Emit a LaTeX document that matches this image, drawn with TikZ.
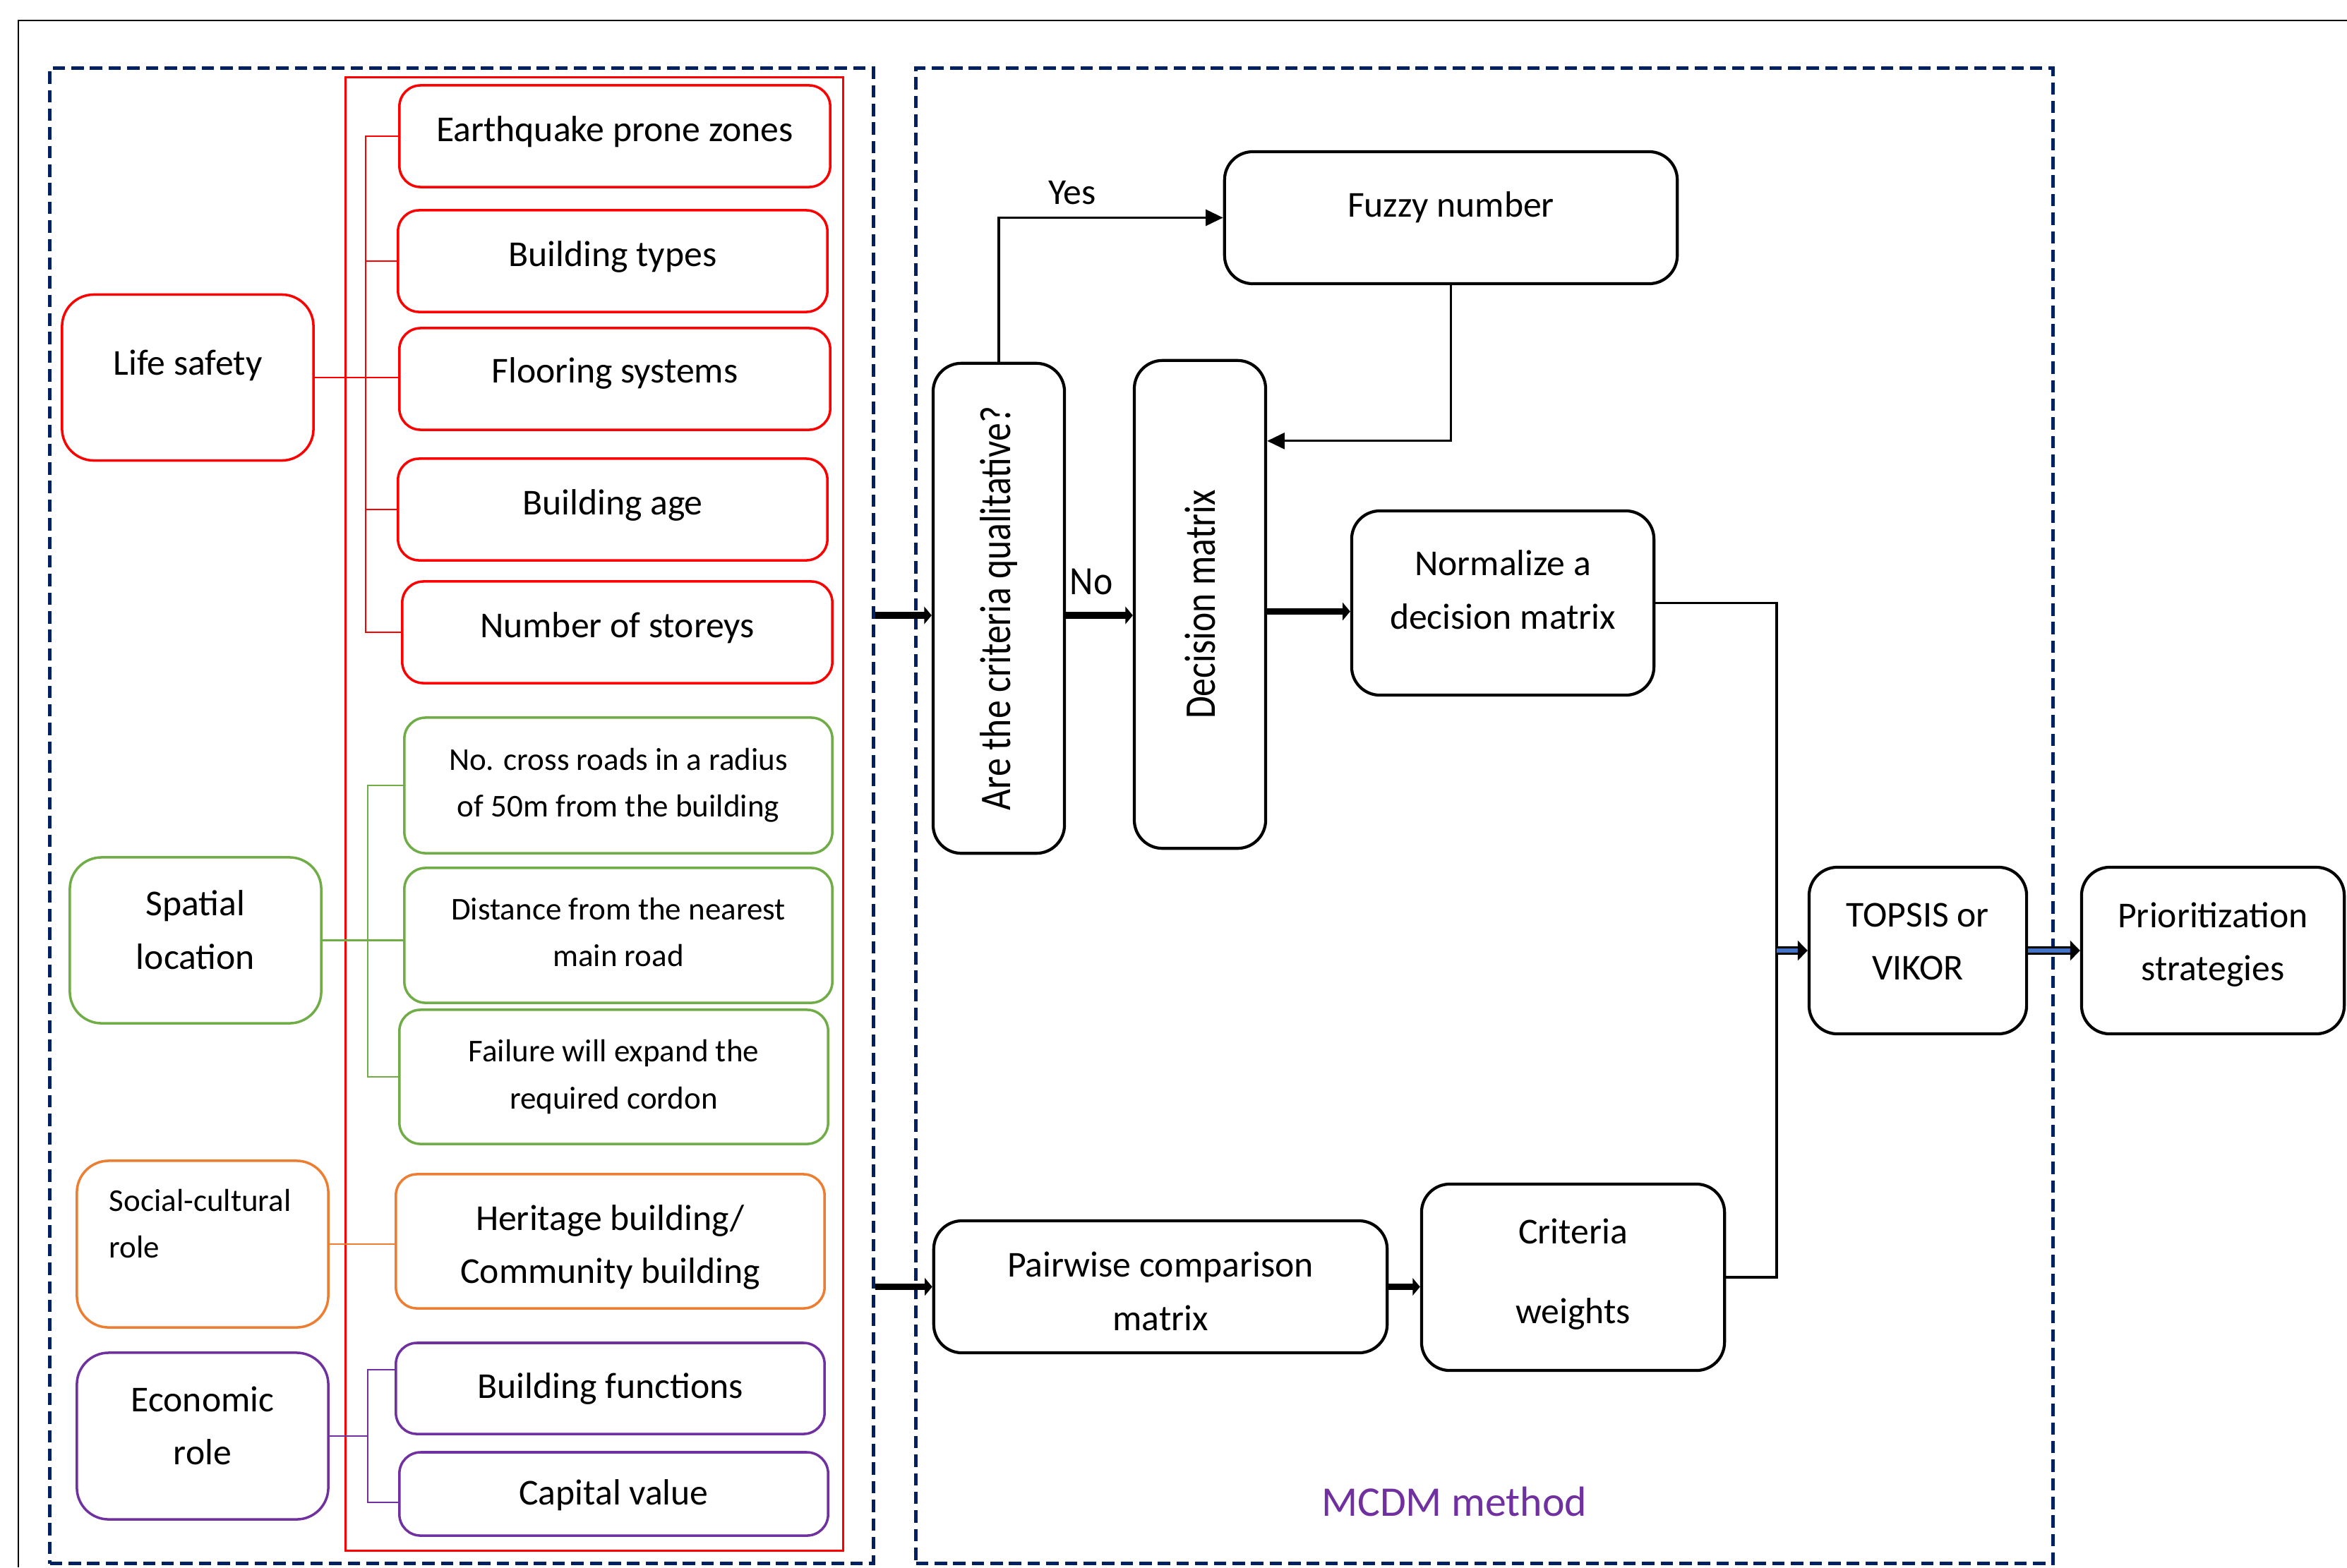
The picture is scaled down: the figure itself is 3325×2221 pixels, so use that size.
\documentclass[tikz,border=0pt]{standalone}
\usepackage{fontspec}
\setmainfont{Carlito}
\usepackage{graphicx}
\usetikzlibrary{arrows.meta}
\definecolor{navy}{HTML}{002060}
\definecolor{cgreen}{HTML}{70AD47}
\definecolor{corange}{HTML}{ED7D31}
\definecolor{cpurple}{HTML}{7030A0}
\definecolor{cblue}{HTML}{4472C4}
\newcommand\myvtext[1]{\rotatebox{90}{\scalebox{1}[1.2]{#1}}}
\begin{document}
\begin{tikzpicture}[x=0.01cm,y=-0.01cm,
  txt/.style={font=\fontsize{14.7}{21.5}\selectfont},
  smalltxt/.style={font=\fontsize{12.8}{18.8}\selectfont},
  every label/.style={inner sep=0pt, align=center},
  T/.style 2 args={label={[txt,yshift=#1]center:#2}},
  S/.style 2 args={label={[smalltxt,yshift=#1]center:#2}},
  box/.style={rounded corners=0.3cm, inner sep=2pt, line width=1pt},
  rbox/.style={box, draw=red},
  gbox/.style={box, draw=cgreen},
  obox/.style={box, draw=corange},
  pbox/.style={box, draw=cpurple},
  kbox/.style={box, draw=black, line width=1.2pt, rounded corners=0.4cm},
  dashbox/.style={draw=navy, line width=1.5pt, dash pattern=on 5pt off 2.5pt, inner sep=0pt},
  rline/.style={draw=red, line width=0.6pt},
  gline/.style={draw=cgreen, line width=0.6pt},
  oline/.style={draw=corange, line width=0.6pt},
  pline/.style={draw=cpurple, line width=0.6pt},
  conn/.style={draw=black, line width=0.9pt},
  flowarrow/.style={conn, -{Triangle[length=7pt,width=6.5pt]}},
  fatarrow/.style={draw=black, line width=2.6pt, -{Triangle[length=3pt,width=7pt]}},
  bluearrow/.style={draw=black, line width=0.7pt, double=cblue, double distance=1.8pt, -{Triangle[length=4pt,width=8pt]}}
]
\useasboundingbox (0,0) rectangle (3325,2221);
\fill[white] (0,0) rectangle (3325,2221);
% outer frame
\draw[line width=0.7pt] (3325,29) -- (26,29) -- (26,2221);
% dashed group boxes
\node[dashbox, minimum width=11.66cm, minimum height=21.18cm] (lbox) at (654,1156) {};
\node[dashbox, minimum width=16.10cm, minimum height=21.18cm] (mbox) at (2103,1156) {};
% red frame around criteria
\node[draw=red, line width=0.9pt, minimum width=7.04cm, minimum height=20.87cm, inner sep=0pt] (rframe) at (842,1153.5) {};

% Life safety group
\node[rbox, rounded corners=0.45cm, minimum width=3.56cm, minimum height=2.35cm, T={4.8pt}{Life safety}] (ls) at (266,535) {};
\node[rbox, minimum width=6.10cm, minimum height=1.44cm, T={1.8pt}{Earthquake prone zones}] (eq) at (871,193) {};
\node[rbox, minimum width=6.08cm, minimum height=1.44cm, T={1.8pt}{Building types}] (bt) at (868,370) {};
\node[rbox, minimum width=6.10cm, minimum height=1.44cm, T={2.4pt}{Flooring systems}] (fl) at (871,537) {};
\node[rbox, minimum width=6.08cm, minimum height=1.44cm, T={1.8pt}{Building age}] (ba) at (868,722) {};
\node[rbox, minimum width=6.09cm, minimum height=1.44cm, T={1.8pt}{Number of storeys}] (ns) at (874.5,896) {};
\coordinate (rb) at (518,0);
\draw[rline] (eq.west) -- (eq.west -| rb) -- (ns.west -| rb) -- (ns.west);
\draw[rline] (bt.west) -- (bt.west -| rb);
\draw[rline] (ba.west) -- (ba.west -| rb);
\draw[rline] (ls.east) -- (ls.east -| fl.west);

% Spatial location group
\node[gbox, rounded corners=0.45cm, minimum width=3.56cm, minimum height=2.35cm, T={4.2pt}{Spatial\\location}] (sp) at (277,1332.5) {};
\node[gbox, minimum width=6.06cm, minimum height=1.92cm, S={0pt}{No. cross roads in a radius\\of 50m from the building}] (nc) at (876,1113) {};
\node[gbox, minimum width=6.06cm, minimum height=1.91cm, S={1.2pt}{Distance from the nearest\\main road}] (ds) at (876,1325.5) {};
\node[gbox, minimum width=6.07cm, minimum height=1.90cm, S={0pt}{Failure will expand the\\required cordon}] (fw) at (869.5,1526) {};
\coordinate (gb) at (521,0);
\draw[gline] (nc.west) -- (nc.west -| gb) -- (fw.west -| gb) -- (fw.west);
\draw[gline] (sp.east) -- (sp.east -| ds.west);

% Social-cultural group
\node[obox, rounded corners=0.45cm, minimum width=3.56cm, minimum height=2.36cm] (sc) at (287,1763) {};
\node[smalltxt, anchor=west, align=left, inner sep=2pt] (sctxt) at (147,1734) {Social-cultural\\role};
\node[obox, minimum width=6.07cm, minimum height=1.90cm, T={-2.4pt}{Heritage building/\\Community building}] (hb) at (864.5,1759) {};
\draw[oline] (sc.east) -- (sc.east -| hb.west);

% Economic group
\node[pbox, rounded corners=0.45cm, minimum width=3.56cm, minimum height=2.36cm, T={4.2pt}{Economic\\role}] (ec) at (287,2035) {};
\node[pbox, minimum width=6.07cm, minimum height=1.29cm, T={0pt}{Building functions}] (bf) at (864.5,1967.5) {};
\node[pbox, minimum width=6.07cm, minimum height=1.18cm, T={-0.6pt}{Capital value}] (cv) at (869.5,2117) {};
\coordinate (pb) at (521,0);
\draw[pline] ([yshift=0.265cm]bf.west) -- ([yshift=0.265cm]bf.west -| pb) -- ([yshift=-0.12cm]cv.west -| pb) -- ([yshift=-0.12cm]cv.west);
\draw[pline] (ec.east) -- (ec.east -| pb);

% MCDM method
\node[kbox, txt, minimum width=1.86cm, minimum height=6.94cm] (q) at (1415,862) {\myvtext{Are the criteria qualitative?}};
\node[kbox, txt, minimum width=1.86cm, minimum height=6.91cm] (d) at (1700,856.5) {\myvtext{Decision matrix}};
\node[kbox, minimum width=6.41cm, minimum height=1.87cm, T={4.2pt}{Fuzzy number}] (f) at (2055.5,308.5) {};
\node[kbox, minimum width=4.28cm, minimum height=2.61cm, T={5.4pt}{Normalize a\\decision matrix}] (n) at (2129,854.5) {};
\node[kbox, minimum width=3.08cm, minimum height=2.36cm, T={3.6pt}{TOPSIS or\\VIKOR}] (t) at (2717,1347) {};
\node[kbox, minimum width=3.72cm, minimum height=2.36cm, T={2.4pt}{Prioritization\\strategies}] (p) at (3135,1347) {};
\node[kbox, minimum width=6.42cm, minimum height=1.87cm, T={-1.8pt}{Pairwise comparison\\matrix}] (pw) at (1644,1823.5) {};
\node[kbox, minimum width=4.29cm, minimum height=2.64cm, T={1.2pt}{Criteria\\[10.5pt]weights}] (cw) at (2228.5,1810) {};

\node[txt, inner sep=0pt] (yes) at (1519,273) {Yes};
\node[txt, inner sep=0pt] (no) at (1546,824) {\scalebox{1}[1.1]{No}};
\node[font=\fontsize{17}{20}\selectfont, text=cpurple, inner sep=0pt] (mcdm) at (2060,2128) {MCDM method};

% connectors
\draw[fatarrow] ([yshift=-0.1cm]q.west -| lbox.east) -- ([yshift=-0.1cm]q.west);
\draw[fatarrow] ([yshift=-0.1cm]q.east) -- ([yshift=-0.1cm]q.east -| d.west);
\draw[fatarrow] ([yshift=-0.1cm]d.east) -- ([yshift=-0.1cm]d.east -| n.west);
\draw[flowarrow] (q.north) |- (f.west);
\draw[flowarrow] (f.south) |- ([yshift=2.315cm]d.east);
\coordinate (bus) at (2517,1347);
\draw[conn] (n.east) -| (bus) |- (cw.east);
\draw[bluearrow] (bus) -- (t.west);
\draw[bluearrow] (t.east) -- (p.west);
\draw[fatarrow] (pw.west -| lbox.east) -- (pw.west);
\draw[fatarrow] (pw.east) -- (pw.east -| cw.west);
\end{tikzpicture}
\end{document}
